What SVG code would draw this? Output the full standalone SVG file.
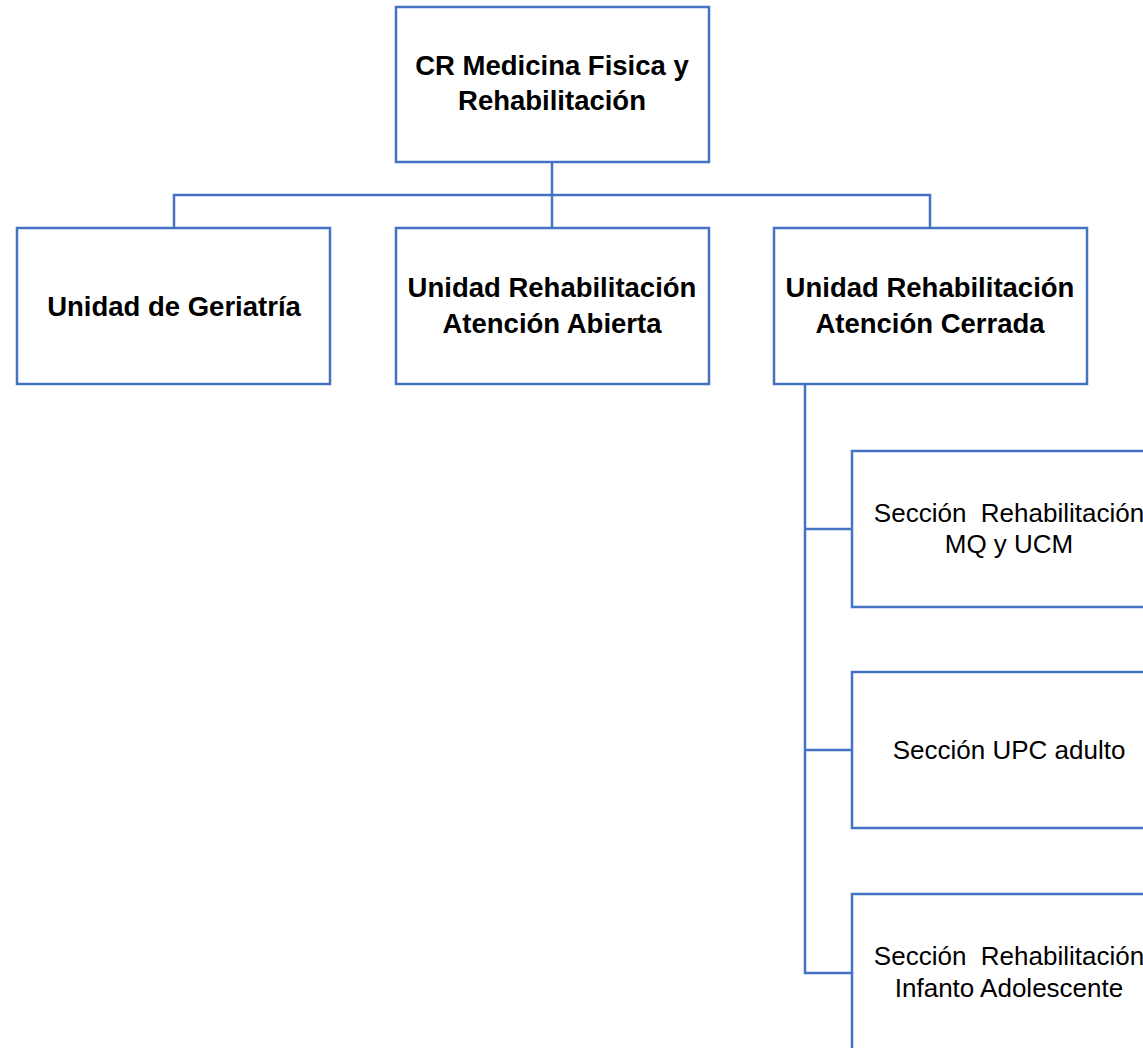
<svg xmlns="http://www.w3.org/2000/svg" width="1143" height="1048" viewBox="0 0 1143 1048">
<style>
.box{fill:#fff;stroke:#4472C4;stroke-width:2.5}
.con{fill:none;stroke:#4472C4;stroke-width:2.5}
.b{font-family:"Liberation Sans",Arial,sans-serif;font-weight:bold;font-size:27.5px;fill:#000;text-anchor:middle}
.r{font-family:"Liberation Sans",Arial,sans-serif;font-size:26px;fill:#000;text-anchor:middle}
</style>
<rect width="1143" height="1048" fill="#fff"/>
<g id="connectors">
<path class="con" d="M552 162V228M174 228V195H930V228"/>
<path class="con" d="M805 384V973H852M805 529H852M805 750H852"/>
</g>
<g id="n-cr">
<rect class="box" x="396" y="7" width="313" height="155"/>
<text class="b" x="552" y="75">CR Medicina Fisica y</text>
<text class="b" x="552" y="110">Rehabilitación</text>
</g>
<g id="n-geriatria">
<rect class="box" x="17" y="228" width="313" height="156"/>
<text class="b" x="174" y="316">Unidad de Geriatría</text>
</g>
<g id="n-abierta">
<rect class="box" x="396" y="228" width="313" height="156"/>
<text class="b" x="552" y="297">Unidad Rehabilitación</text>
<text class="b" x="552" y="333">Atención Abierta</text>
</g>
<g id="n-cerrada">
<rect class="box" x="774" y="228" width="313" height="156"/>
<text class="b" x="930" y="297">Unidad Rehabilitación</text>
<text class="b" x="930" y="333">Atención Cerrada</text>
</g>
<g id="n-mq">
<rect class="box" x="852" y="451" width="314" height="156"/>
<text class="r" x="1009" y="522" xml:space="preserve">Sección  Rehabilitación</text>
<text class="r" x="1009" y="553">MQ y UCM</text>
</g>
<g id="n-upc">
<rect class="box" x="852" y="672" width="314" height="156"/>
<text class="r" x="1009" y="759">Sección UPC adulto</text>
</g>
<g id="n-infanto">
<rect class="box" x="852" y="894" width="314" height="156"/>
<text class="r" x="1009" y="965" xml:space="preserve">Sección  Rehabilitación</text>
<text class="r" x="1009" y="997">Infanto Adolescente</text>
</g>
</svg>
